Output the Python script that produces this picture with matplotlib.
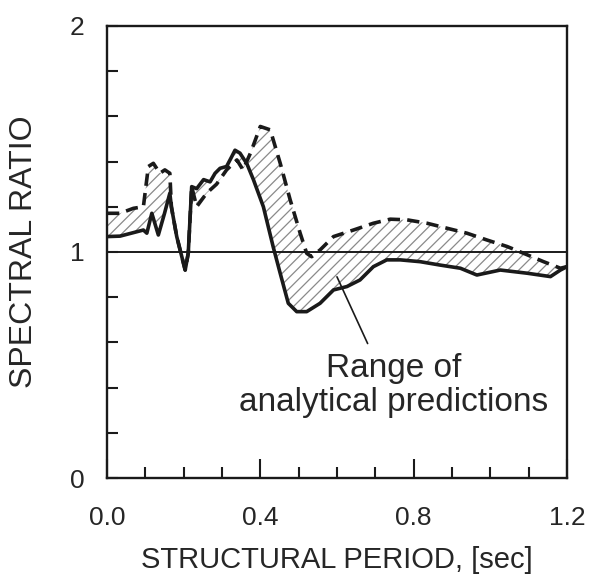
import matplotlib
matplotlib.use("Agg")
import matplotlib.pyplot as plt
import numpy as np

plt.rcParams['font.family'] = ['Liberation Sans', 'DejaVu Sans']
plt.rcParams['hatch.linewidth'] = 0.9

# Measured (solid) spectral ratio
solid_x = [0.0, 0.034, 0.095, 0.104, 0.117, 0.134, 0.150, 0.164, 0.168, 0.182, 0.204, 0.212,
           0.221, 0.234, 0.252, 0.269, 0.282, 0.295, 0.312, 0.325, 0.334, 0.347, 0.365, 0.382,
           0.408, 0.434, 0.452, 0.473, 0.495, 0.521, 0.556, 0.591, 0.626, 0.660, 0.695, 0.730,
           0.765, 0.817, 0.869, 0.922, 0.965, 1.026, 1.096, 1.157, 1.183, 1.200]
solid_y = [1.068, 1.070, 1.097, 1.083, 1.171, 1.075, 1.170, 1.260, 1.200, 1.068, 0.920, 0.994,
           1.289, 1.280, 1.320, 1.310, 1.348, 1.370, 1.378, 1.420, 1.450, 1.437, 1.390, 1.320,
           1.200, 1.020, 0.905, 0.773, 0.736, 0.736, 0.773, 0.832, 0.847, 0.876, 0.935, 0.965,
           0.965, 0.957, 0.942, 0.928, 0.898, 0.920, 0.906, 0.891, 0.920, 0.935]

# Upper bound of predictions (dashed)
dash_x = [0.0, 0.034, 0.069, 0.095, 0.108, 0.121, 0.138, 0.151, 0.164, 0.168, 0.182, 0.204,
          0.212, 0.221, 0.234, 0.260, 0.286, 0.312, 0.339, 0.355, 0.375, 0.400, 0.426, 0.452,
          0.478, 0.504, 0.521, 0.534, 0.556, 0.591, 0.643, 0.695, 0.739, 0.783, 0.835, 0.887,
          0.939, 0.991, 1.044, 1.087, 1.139, 1.183, 1.200]
dash_y = [1.171, 1.171, 1.193, 1.200, 1.378, 1.392, 1.348, 1.363, 1.348, 1.200, 1.068, 0.920,
          0.994, 1.289, 1.200, 1.260, 1.300, 1.363, 1.407, 1.363, 1.440, 1.555, 1.540, 1.392,
          1.230, 1.083, 0.994, 0.979, 1.009, 1.068, 1.097, 1.127, 1.145, 1.142, 1.127, 1.105,
          1.083, 1.053, 1.024, 0.994, 0.957, 0.928, 0.935]

x_ticks = [0.0, 0.4, 0.8, 1.2]
x_labels = ["0.0", "0.4", "0.8", "1.2"]
y_ticks = [0, 1, 2]
y_labels = ["0", "1", "2"]

fig = plt.figure(figsize=(5.92, 5.88), dpi=100)
ax = fig.add_axes([0.1807, 0.187, 0.777, 0.769])

ink = '#1a1a1a'
txt = '#262626'

# hatched region between curves
ax.fill(np.concatenate([solid_x, dash_x[::-1]]), np.concatenate([solid_y, dash_y[::-1]]),
        facecolor='none', edgecolor='#8a8a8a', hatch='///', linewidth=0, zorder=1)

ax.axhline(1.0, color=ink, lw=1.4, zorder=2)
ax.plot(dash_x, dash_y, color=ink, lw=2.6, linestyle=(0, (3.4, 2.0)), zorder=3,
        solid_joinstyle='round', dash_joinstyle='round')
ax.plot(solid_x, solid_y, color=ink, lw=2.6, zorder=4, solid_joinstyle='round')

ax.annotate("", xy=(0.600, 0.89), xytext=(0.680, 0.595),
            arrowprops=dict(arrowstyle='-', color=ink, lw=1.2, shrinkA=0, shrinkB=0))
ax.text(0.747, 0.41, "Range of\nanalytical predictions", ha='center', va='center',
        fontsize=24, color=txt, linespacing=1.1)

ax.set_xlim(0, 1.2)
ax.set_ylim(0, 2)
ax.set_xticks(x_ticks)
ax.set_xticklabels(x_labels)
ax.set_xticks(np.arange(0, 1.21, 0.1), minor=True)
ax.set_yticks(y_ticks)
ax.set_yticklabels(y_labels)
ax.set_yticks(np.arange(0, 2.01, 0.2), minor=True)

ax.tick_params(axis='both', which='major', direction='in', length=14, width=1.5,
               labelsize=19, colors=ink, labelcolor=txt)
ax.tick_params(axis='x', which='major', pad=20)
ax.tick_params(axis='y', which='major', length=8, pad=16)
ax.tick_params(axis='both', which='minor', direction='in', length=8, width=1.5, colors=ink)

for s in ax.spines.values():
    s.set_linewidth(1.7)
    s.set_color(ink)

ax.set_xlabel("STRUCTURAL PERIOD, [sec]", fontsize=21, color=txt, labelpad=12)
ax.set_ylabel("SPECTRAL RATIO", fontsize=23, color=txt, labelpad=22)

fig.savefig("out.png", dpi=100)
